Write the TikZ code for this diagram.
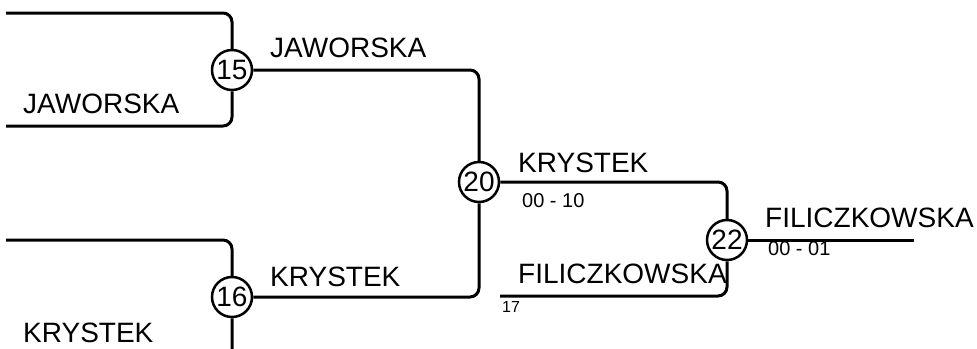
\documentclass[tikz,border=0pt]{standalone}
\usepackage{fontspec}
\setmainfont{Liberation Sans}
\begin{document}
\begin{tikzpicture}[x=1pt,y=-1pt,
  wire/.style={line width=3pt, rounded corners=9pt},
  seed/.style={circle, draw, line width=2.5pt, fill=white, minimum size=40pt, inner sep=0pt, font=\fontsize{28}{30}\selectfont},
  player/.style={anchor=base west, inner sep=0pt, font=\fontsize{28}{30}\selectfont},
  score/.style={anchor=base west, inner sep=0pt, font=\fontsize{20}{22}\selectfont},
  tinylbl/.style={anchor=base west, inner sep=0pt, font=\fontsize{16}{18}\selectfont}]
\clip (0,0) rectangle (977,348);
\node[seed] (c15) at (232,70) {15};
\node[seed] (c16) at (232,297) {16};
\node[seed] (c20) at (479,182) {20};
\node[seed] (c22) at (727,240) {22};
\coordinate (t15) at (6,13);
\coordinate (b15) at (6,126);
\coordinate (t16) at (6,240);
\coordinate (b16) at (6,362);
\coordinate (in22) at (500,296);
\coordinate (fin) at (914,240);
\draw[wire] (t15) -| (c15.north);
\draw[wire] (b15) -| (c15.south);
\draw[wire] (t16) -| (c16.north);
\draw[wire] (b16) -| (c16.south);
\draw[wire] (c15.east) -| (c20.north);
\draw[wire] (c16.east) -| (c20.south);
\draw[wire] (c20.east) -| (c22.north);
\draw[wire] (in22) -| (c22.south);
\draw[wire] (c22.east) -- (fin);
\node[player] (n1) at (270,57) {JAWORSKA};
\node[player] (n2) at (23,113) {JAWORSKA};
\node[player] (n3) at (270,286) {KRYSTEK};
\node[player] (n4) at (23,342) {KRYSTEK};
\node[player] (n5) at (518,172) {KRYSTEK};
\node[score] (s1) at (522,207) {00 - 10};
\node[player] (n6) at (518,283) {FILICZKOWSKA};
\node[tinylbl] (s2) at (502,312) {17};
\node[player] (n7) at (765,227) {FILICZKOWSKA};
\node[score] (s3) at (768,255) {00 - 01};
\end{tikzpicture}
\end{document}
